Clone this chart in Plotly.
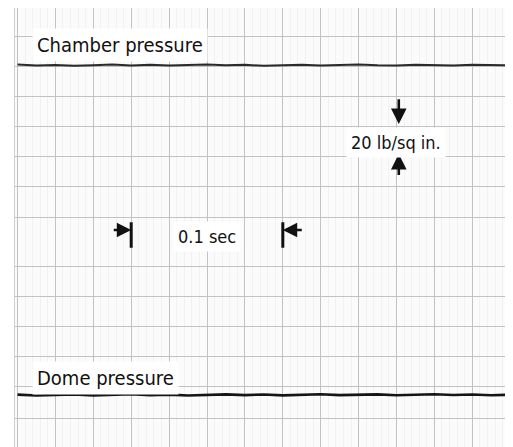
import plotly.graph_objects as go

# Oscillograph record: chamber and dome pressure against time
INK = "#111111"
GRID = "#c2c2c2"
MINOR = "#f1f1f1"
FONT = "Liberation Sans Narrow, DejaVu Sans Condensed, Arial Narrow, sans-serif"

# time (sec) and trace levels (lb/sq in., arbitrary zero)
time_s = [0.0, 0.0125, 0.025, 0.0375, 0.05, 0.0625, 0.075, 0.0875, 0.1, 0.1125,
          0.125, 0.1375, 0.15, 0.1625, 0.175, 0.1875, 0.2, 0.2125, 0.225, 0.2375,
          0.25, 0.2625, 0.275, 0.2875, 0.3, 0.3125, 0.325]
chamber = [241.6, 241.0, 241.3, 240.8, 241.2, 241.7, 241.0, 241.4, 240.9, 241.3,
           241.7, 241.1, 241.4, 240.8, 241.2, 241.5, 241.0, 241.3, 241.6, 241.1,
           240.9, 241.4, 241.2, 241.0, 241.5, 241.3, 241.1]
dome = [21.6, 21.0, 21.4, 21.8, 21.1, 21.5, 21.9, 21.2, 21.6, 21.0,
        21.5, 21.8, 21.3, 21.7, 21.1, 21.6, 21.9, 21.3, 21.5, 21.8,
        21.2, 21.6, 21.9, 21.4, 21.7, 21.2, 21.5]

# chart-paper rulings (lb/sq in.)
h_rulings = [260, 240, 220, 200, 180, 160, 140, 107, 87, 67, 47, 27, 6]

# calibration marks
time_mark = [0.075, 0.175]      # 0.1 sec
psi_mark = [202, 182]           # 20 lb/sq in.

fig = go.Figure()
fig.add_trace(go.Scatter(x=time_s, y=chamber, mode="lines",
                         line=dict(color="#2a2a2a", width=2), hoverinfo="skip"))
fig.add_trace(go.Scatter(x=time_s, y=dome, mode="lines",
                         line=dict(color="#151515", width=2.6), hoverinfo="skip"))

# time calibration: bars with inward arrows
for t in time_mark:
    fig.add_shape(type="line", x0=t, x1=t, y0=119.5, y1=136.5,
                  line=dict(color=INK, width=3))
fig.add_annotation(x=time_mark[0], y=131.3, ax=time_mark[0] - 0.0125, ay=131.3,
                   axref="x", ayref="y", text="", showarrow=True,
                   arrowhead=2, arrowsize=1.2, arrowwidth=2.4, arrowcolor=INK)
fig.add_annotation(x=time_mark[1], y=131.3, ax=time_mark[1] + 0.0135, ay=131.3,
                   axref="x", ayref="y", text="", showarrow=True,
                   arrowhead=2, arrowsize=1.2, arrowwidth=2.4, arrowcolor=INK)

# pressure calibration: arrows pointing at each other
fig.add_annotation(x=0.2515, y=psi_mark[0], ax=0.2515, ay=psi_mark[0] + 17.5,
                   axref="x", ayref="y", text="", showarrow=True,
                   arrowhead=2, arrowsize=1.2, arrowwidth=2.6, arrowcolor=INK)
fig.add_annotation(x=0.2515, y=psi_mark[1], ax=0.2515, ay=psi_mark[1] - 15,
                   axref="x", ayref="y", text="", showarrow=True,
                   arrowhead=2, arrowsize=1.2, arrowwidth=2.6, arrowcolor=INK)

labels = [
    ("Chamber pressure", 0.0096, 254.7, 20, "left"),
    ("Dome pressure", 0.0096, 33.0, 20, "left"),
    ("0.1 sec", 0.1253, 127.0, 18, "center"),
    ("20 lb/sq in.", 0.2497, 189.7, 18, "center"),
]
for txt, x, y, size, anchor in labels:
    fig.add_annotation(x=x, y=y, text=txt, showarrow=False, xanchor=anchor,
                       yanchor="middle", bgcolor="white", borderpad=4,
                       font=dict(family=FONT, size=size, color=INK))

fig.update_xaxes(range=[-0.00165, 0.3242], dtick=0.025, tick0=0,
                 showgrid=True, gridcolor=GRID, gridwidth=1,
                 minor=dict(dtick=0.005, showgrid=True, gridcolor=MINOR),
                 showticklabels=False, zeroline=False, ticks="",
                 showline=True, linecolor="#cfcfcf", mirror=True, fixedrange=True)
fig.update_yaxes(range=[-13.3, 279.3], tickvals=h_rulings,
                 showgrid=True, gridcolor=GRID, gridwidth=1,
                 showticklabels=False, zeroline=False, ticks="",
                 showline=True, linecolor="#cfcfcf", mirror=True, fixedrange=True)
# page body adds 8px on top and left, so the figure is sized to fill the rest
fig.update_layout(
    width=505, height=439, showlegend=False,
    margin=dict(l=7, r=4, t=0, b=0),
    plot_bgcolor="#fbfbfb", paper_bgcolor="white",
)
fig.write_html("out.html")
